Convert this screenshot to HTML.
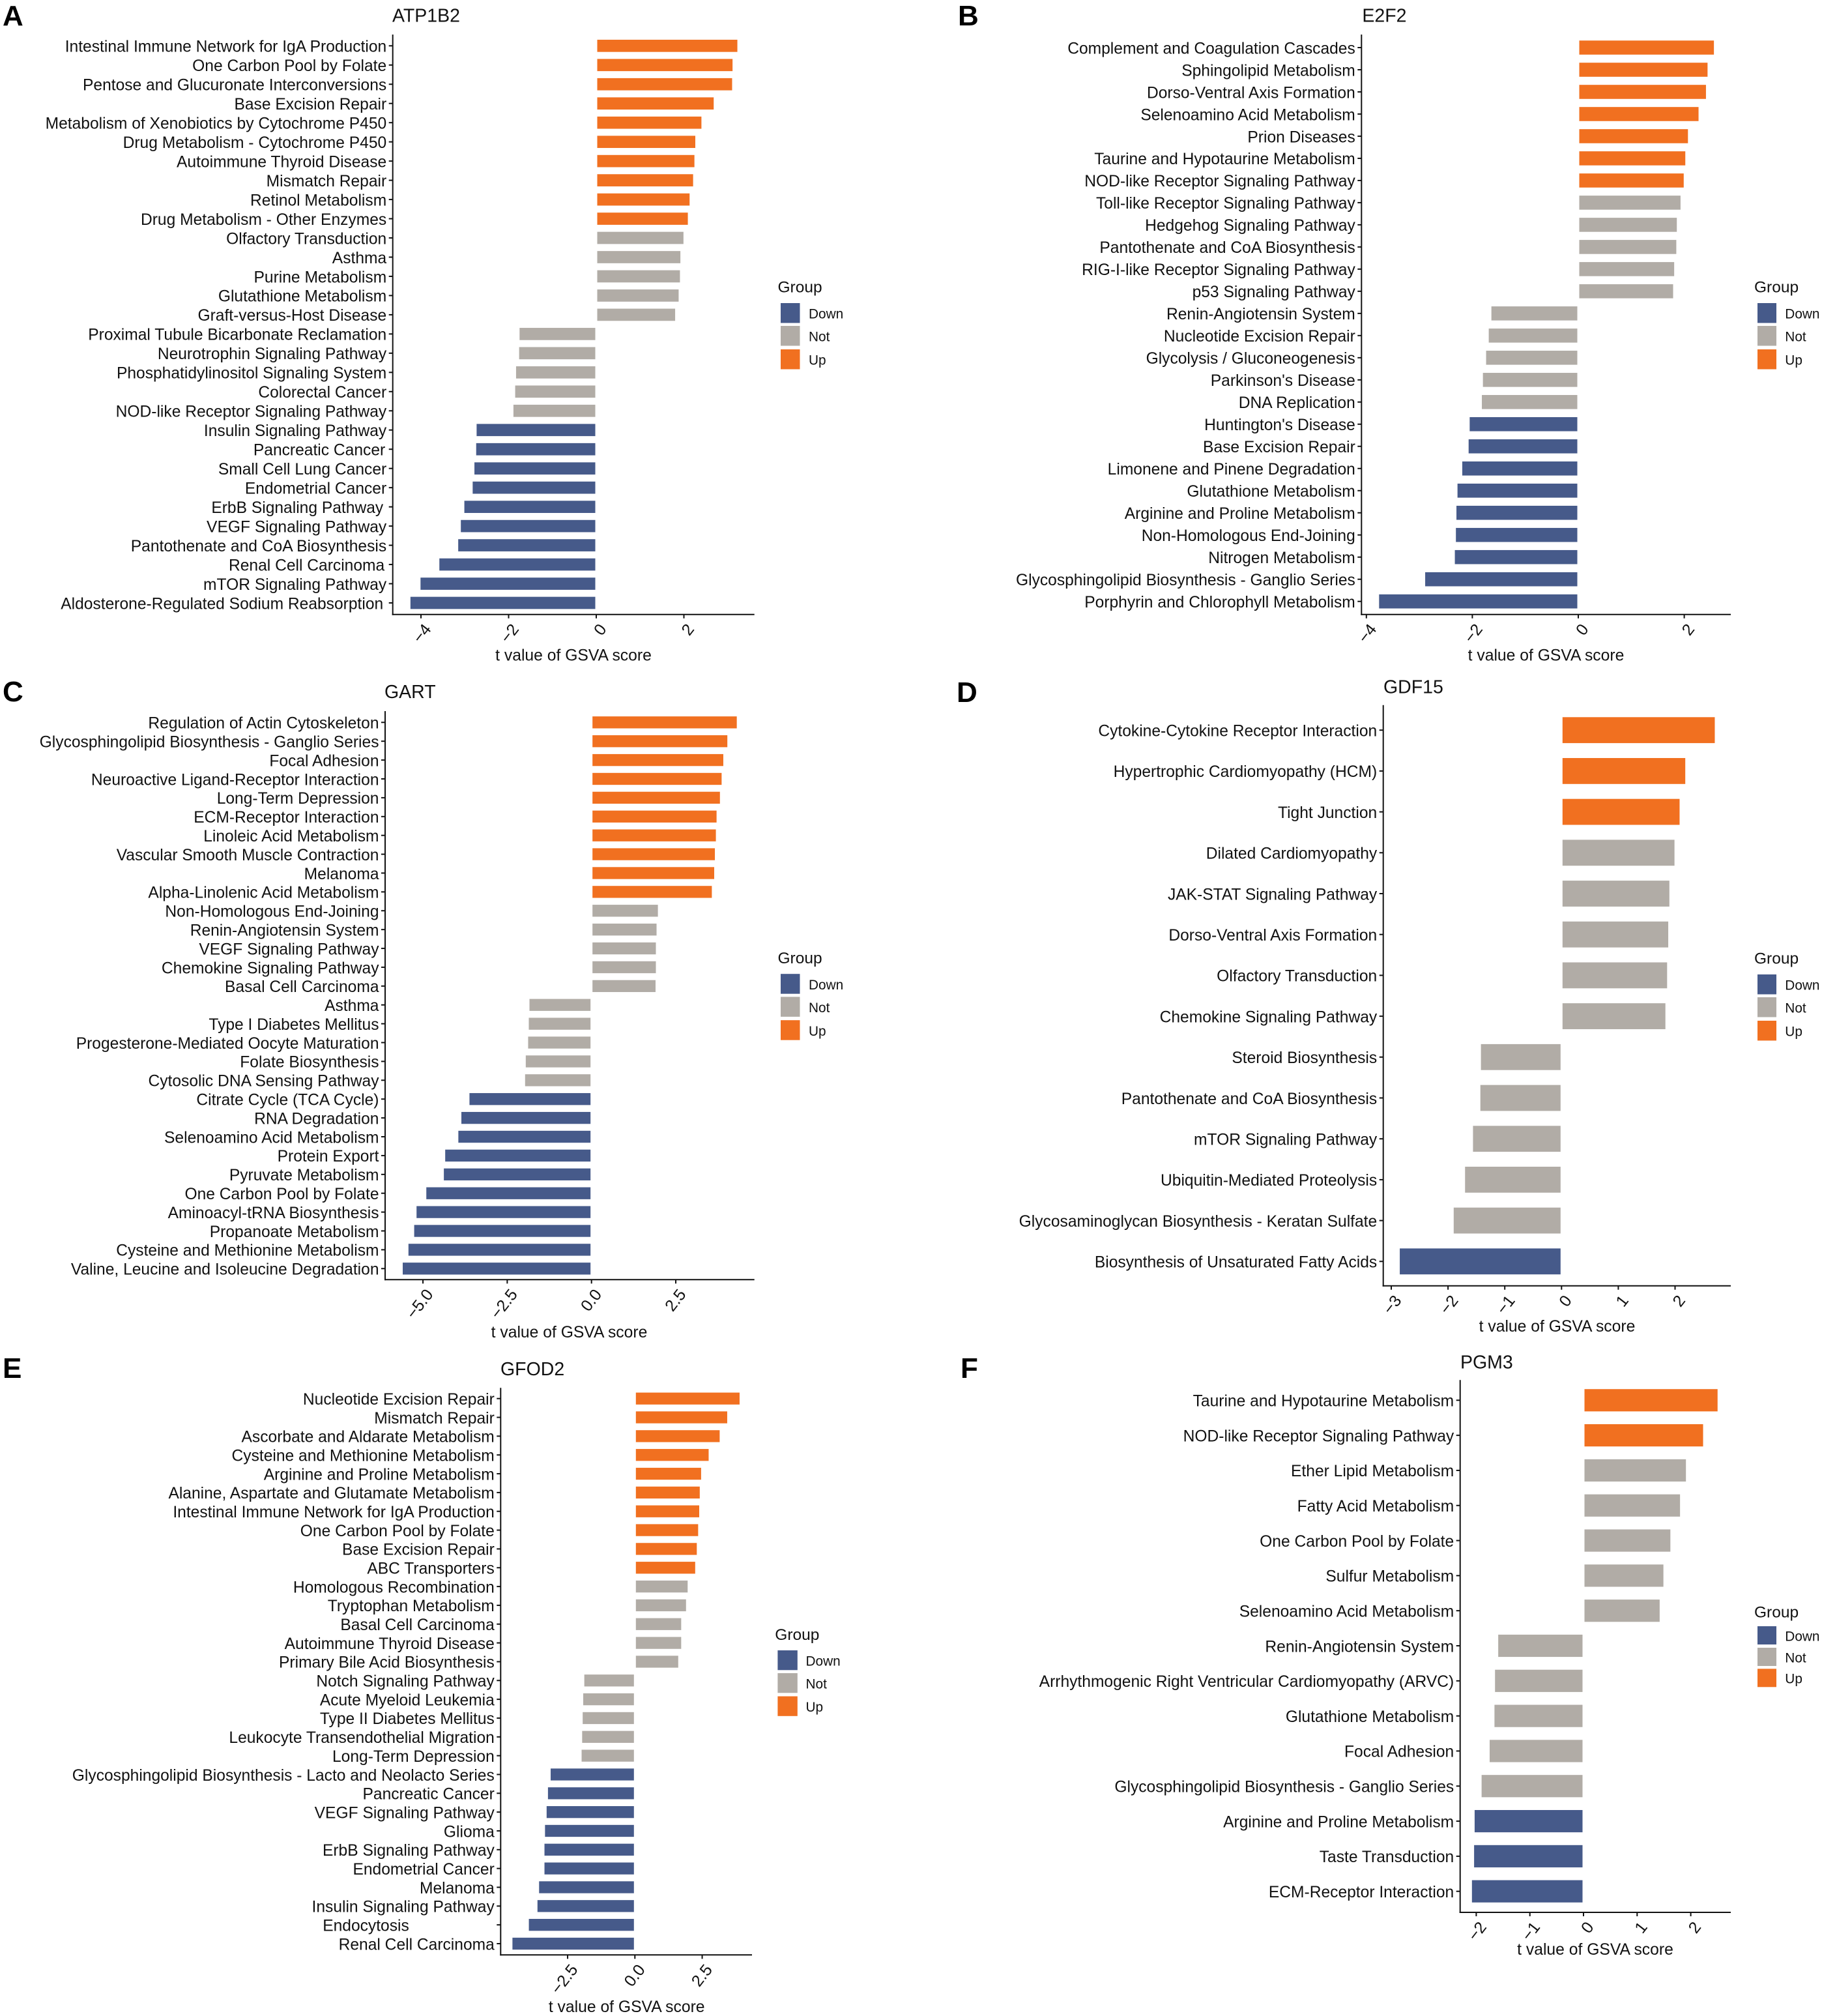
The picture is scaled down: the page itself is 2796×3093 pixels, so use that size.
<!DOCTYPE html>
<html lang="en">
<head>
<meta charset="utf-8">
<title>GSVA score bar charts</title>
<style>
html,body{margin:0;padding:0;background:#fff;}
svg{display:block;}
text{font-family:"Liberation Sans",Arial,sans-serif;fill:#111;}
</style>
</head>
<body>
<svg id="figure" xmlns="http://www.w3.org/2000/svg" width="2796" height="3093" viewBox="0 0 2796 3093"></svg>
<script>
const atp1b2Labels = ["Intestinal Immune Network for IgA Production","One Carbon Pool by Folate","Pentose and Glucuronate Interconversions","Base Excision Repair","Metabolism of Xenobiotics by Cytochrome P450","Drug Metabolism - Cytochrome P450","Autoimmune Thyroid Disease","Mismatch Repair","Retinol Metabolism","Drug Metabolism - Other Enzymes","Olfactory Transduction","Asthma","Purine Metabolism","Glutathione Metabolism","Graft-versus-Host Disease","Proximal Tubule Bicarbonate Reclamation","Neurotrophin Signaling Pathway","Phosphatidylinositol Signaling System","Colorectal Cancer","NOD-like Receptor Signaling Pathway","Insulin Signaling Pathway","Pancreatic Cancer","Small Cell Lung Cancer","Endometrial Cancer","ErbB Signaling Pathway","VEGF Signaling Pathway","Pantothenate and CoA Biosynthesis","Renal Cell Carcinoma","mTOR Signaling Pathway","Aldosterone-Regulated Sodium Reabsorption"];
const atp1b2Values = [3.22,3.11,3.10,2.68,2.40,2.26,2.24,2.21,2.13,2.09,1.99,1.92,1.91,1.88,1.80,-1.75,-1.76,-1.83,-1.85,-1.89,-2.73,-2.74,-2.78,-2.82,-3.01,-3.09,-3.15,-3.58,-4.01,-4.24];
const atp1b2Groups = ["Up","Up","Up","Up","Up","Up","Up","Up","Up","Up","Not","Not","Not","Not","Not","Not","Not","Not","Not","Not","Down","Down","Down","Down","Down","Down","Down","Down","Down","Down"];
const atp1b2Ticks = [-4,-2,0,2];
const atp1b2TickLabels = ["\u22124","\u22122","0","2"];

const e2f2Labels = ["Complement and Coagulation Cascades","Sphingolipid Metabolism","Dorso-Ventral Axis Formation","Selenoamino Acid Metabolism","Prion Diseases","Taurine and Hypotaurine Metabolism","NOD-like Receptor Signaling Pathway","Toll-like Receptor Signaling Pathway","Hedgehog Signaling Pathway","Pantothenate and CoA Biosynthesis","RIG-I-like Receptor Signaling Pathway","p53 Signaling Pathway","Renin-Angiotensin System","Nucleotide Excision Repair","Glycolysis / Gluconeogenesis","Parkinson's Disease","DNA Replication","Huntington's Disease","Base Excision Repair","Limonene and Pinene Degradation","Glutathione Metabolism","Arginine and Proline Metabolism","Non-Homologous End-Joining","Nitrogen Metabolism","Glycosphingolipid Biosynthesis - Ganglio Series","Porphyrin and Chlorophyll Metabolism"];
const e2f2Values = [2.56,2.44,2.41,2.27,2.07,2.02,1.99,1.93,1.86,1.85,1.81,1.79,-1.64,-1.69,-1.74,-1.80,-1.82,-2.05,-2.07,-2.19,-2.28,-2.30,-2.31,-2.33,-2.89,-3.76];
const e2f2Groups = ["Up","Up","Up","Up","Up","Up","Up","Not","Not","Not","Not","Not","Not","Not","Not","Not","Not","Down","Down","Down","Down","Down","Down","Down","Down","Down"];
const e2f2Ticks = [-4,-2,0,2];
const e2f2TickLabels = ["\u22124","\u22122","0","2"];

const gartLabels = ["Regulation of Actin Cytoskeleton","Glycosphingolipid Biosynthesis - Ganglio Series","Focal Adhesion","Neuroactive Ligand-Receptor Interaction","Long-Term Depression","ECM-Receptor Interaction","Linoleic Acid Metabolism","Vascular Smooth Muscle Contraction","Melanoma","Alpha-Linolenic Acid Metabolism","Non-Homologous End-Joining","Renin-Angiotensin System","VEGF Signaling Pathway","Chemokine Signaling Pathway","Basal Cell Carcinoma","Asthma","Type I Diabetes Mellitus","Progesterone-Mediated Oocyte Maturation","Folate Biosynthesis","Cytosolic DNA Sensing Pathway","Citrate Cycle (TCA Cycle)","RNA Degradation","Selenoamino Acid Metabolism","Protein Export","Pyruvate Metabolism","One Carbon Pool by Folate","Aminoacyl-tRNA Biosynthesis","Propanoate Metabolism","Cysteine and Methionine Metabolism","Valine, Leucine and Isoleucine Degradation"];
const gartValues = [4.31,4.03,3.91,3.86,3.81,3.71,3.69,3.66,3.64,3.57,1.97,1.93,1.91,1.91,1.90,-1.84,-1.86,-1.88,-1.95,-1.97,-3.62,-3.86,-3.95,-4.34,-4.38,-4.90,-5.19,-5.26,-5.43,-5.60];
const gartGroups = ["Up","Up","Up","Up","Up","Up","Up","Up","Up","Up","Not","Not","Not","Not","Not","Not","Not","Not","Not","Not","Down","Down","Down","Down","Down","Down","Down","Down","Down","Down"];
const gartTicks = [-5,-2.5,0,2.5];
const gartTickLabels = ["\u22125.0","\u22122.5","0.0","2.5"];

const gdf15Labels = ["Cytokine-Cytokine Receptor Interaction","Hypertrophic Cardiomyopathy (HCM)","Tight Junction","Dilated Cardiomyopathy","JAK-STAT Signaling Pathway","Dorso-Ventral Axis Formation","Olfactory Transduction","Chemokine Signaling Pathway","Steroid Biosynthesis","Pantothenate and CoA Biosynthesis","mTOR Signaling Pathway","Ubiquitin-Mediated Proteolysis","Glycosaminoglycan Biosynthesis - Keratan Sulfate","Biosynthesis of Unsaturated Fatty Acids"];
const gdf15Values = [2.70,2.18,2.08,1.99,1.90,1.88,1.86,1.83,-1.42,-1.43,-1.56,-1.70,-1.90,-2.85];
const gdf15Groups = ["Up","Up","Up","Not","Not","Not","Not","Not","Not","Not","Not","Not","Not","Down"];
const gdf15Ticks = [-3,-2,-1,0,1,2];
const gdf15TickLabels = ["\u22123","\u22122","\u22121","0","1","2"];

const gfod2Labels = ["Nucleotide Excision Repair","Mismatch Repair","Ascorbate and Aldarate Metabolism","Cysteine and Methionine Metabolism","Arginine and Proline Metabolism","Alanine, Aspartate and Glutamate Metabolism","Intestinal Immune Network for IgA Production","One Carbon Pool by Folate","Base Excision Repair","ABC Transporters","Homologous Recombination","Tryptophan Metabolism","Basal Cell Carcinoma","Autoimmune Thyroid Disease","Primary Bile Acid Biosynthesis","Notch Signaling Pathway","Acute Myeloid Leukemia","Type II Diabetes Mellitus","Leukocyte Transendothelial Migration","Long-Term Depression","Glycosphingolipid Biosynthesis - Lacto and Neolacto Series","Pancreatic Cancer","VEGF Signaling Pathway","Glioma","ErbB Signaling Pathway","Endometrial Cancer","Melanoma","Insulin Signaling Pathway","Endocytosis","Renal Cell Carcinoma"];
const gfod2Values = [3.89,3.43,3.15,2.74,2.46,2.41,2.39,2.35,2.30,2.24,1.96,1.90,1.72,1.72,1.61,-1.88,-1.92,-1.94,-1.96,-1.98,-3.13,-3.23,-3.28,-3.34,-3.36,-3.36,-3.56,-3.62,-3.94,-4.55];
const gfod2Groups = ["Up","Up","Up","Up","Up","Up","Up","Up","Up","Up","Not","Not","Not","Not","Not","Not","Not","Not","Not","Not","Down","Down","Down","Down","Down","Down","Down","Down","Down","Down"];
const gfod2Ticks = [-2.5,0,2.5];
const gfod2TickLabels = ["\u22122.5","0.0","2.5"];

const pgm3Labels = ["Taurine and Hypotaurine Metabolism","NOD-like Receptor Signaling Pathway","Ether Lipid Metabolism","Fatty Acid Metabolism","One Carbon Pool by Folate","Sulfur Metabolism","Selenoamino Acid Metabolism","Renin-Angiotensin System","Arrhythmogenic Right Ventricular Cardiomyopathy (ARVC)","Glutathione Metabolism","Focal Adhesion","Glycosphingolipid Biosynthesis - Ganglio Series","Arginine and Proline Metabolism","Taste Transduction","ECM-Receptor Interaction"];
const pgm3Values = [2.50,2.23,1.91,1.80,1.62,1.49,1.42,-1.59,-1.65,-1.66,-1.75,-1.90,-2.03,-2.04,-2.08];
const pgm3Groups = ["Up","Up","Not","Not","Not","Not","Not","Not","Not","Not","Not","Not","Down","Down","Down"];
const pgm3Ticks = [-2,-1,0,1,2];
const pgm3TickLabels = ["\u22122","\u22121","0","1","2"];

const legendNames = ["Down","Not","Up"];
const groupColors = {Down:"#465A8A",Not:"#B1ACA6",Up:"#F17020"};

const panels = [
  {id:"a",letter:"A",lx:4,ly:39,title:"ATP1B2",titleX:602,titleY:24.5,labels:atp1b2Labels,values:atp1b2Values,groups:atp1b2Groups,ticks:atp1b2Ticks,tickLabels:atp1b2TickLabels,
   axisX:602.7,axisRight:1157.7,axisTop:53,axisBottom:942.7,zero:915,unit:67.25,first:70.3,last:925,xTitleX:880,xTitleY:1006,
   legX:1193.5,legTitleY:441,keyX:1198,keyW:29.5,keyH:30.5,keyY:[465,500,536],legLabelX:1241,nudge:{21:-2,24:-5,27:-3,29:-5}},
  {id:"b",letter:"B",lx:1470,ly:39,title:"E2F2",titleX:2090.4,titleY:24.5,labels:e2f2Labels,values:e2f2Values,groups:e2f2Groups,ticks:e2f2Ticks,tickLabels:e2f2TickLabels,
   axisX:2089.3,axisRight:2656,axisTop:53,axisBottom:942.7,zero:2422,unit:81.3,first:73,last:922.7,xTitleX:2372.5,xTitleY:1006,
   legX:2692,legTitleY:441,keyX:2697,keyW:29,keyH:30.5,keyY:[465,500,536],legLabelX:2739.3,nudge:{}},
  {id:"c",letter:"C",lx:4,ly:1076,title:"GART",titleX:590,titleY:1061.8,labels:gartLabels,values:gartValues,groups:gartGroups,ticks:gartTicks,tickLabels:gartTickLabels,
   axisX:591,axisRight:1157.7,axisTop:1091,axisBottom:1963.3,zero:907.7,unit:51.73,first:1108.3,last:1946.3,xTitleX:873.5,xTitleY:2044.3,
   legX:1193.5,legTitleY:1470.4,keyX:1198,keyW:29.5,keyH:30.5,keyY:[1494.2,1529.4,1565.2],legLabelX:1241,nudge:{}},
  {id:"d",letter:"D",lx:1468,ly:1077,title:"GDF15",titleX:2123,titleY:1054.5,labels:gdf15Labels,values:gdf15Values,groups:gdf15Groups,ticks:gdf15Ticks,tickLabels:gdf15TickLabels,
   axisX:2122.7,axisRight:2656,axisTop:1081.7,axisBottom:1972.7,zero:2396.3,unit:87.1,first:1120.2,last:1935.3,xTitleX:2389.5,xTitleY:2035.7,
   legX:2692,legTitleY:1471,keyX:2697,keyW:29,keyH:30.5,keyY:[1495,1530,1566],legLabelX:2739.3,nudge:{}},
  {id:"e",letter:"E",lx:4,ly:2114,title:"GFOD2",titleX:768,titleY:2100.9,labels:gfod2Labels,values:gfod2Values,groups:gfod2Groups,ticks:gfod2Ticks,tickLabels:gfod2TickLabels,
   axisX:768.3,axisRight:1154,axisTop:2129.2,axisBottom:2999.3,zero:974.3,unit:41.3,first:2145.7,last:2982,xTitleX:961.7,xTitleY:3079.3,
   legX:1189.3,legTitleY:2508.3,keyX:1193.4,keyW:30.4,keyH:30.3,keyY:[2532,2567,2602.5],legLabelX:1236.5,nudge:{28:-131}},
  {id:"f",letter:"F",lx:1474,ly:2114,title:"PGM3",titleX:2241,titleY:2090.3,labels:pgm3Labels,values:pgm3Values,groups:pgm3Groups,ticks:pgm3Ticks,tickLabels:pgm3TickLabels,
   axisX:2240.7,axisRight:2656,axisTop:2117.3,axisBottom:2934,zero:2430,unit:82.3,first:2148.3,last:2901.7,xTitleX:2448,xTitleY:2991.7,
   legX:2692,legTitleY:2474,keyX:2697,keyW:29,keyH:28,keyY:[2495,2528,2560.3],legLabelX:2739.3,nudge:{}}
];

const SVGNS = "http://www.w3.org/2000/svg";
const root = document.getElementById("figure");

function make(tag, attrs, parent, txt){
  const el = document.createElementNS(SVGNS, tag);
  for(const k in attrs){ el.setAttribute(k, attrs[k]); }
  if(txt !== undefined){ el.textContent = txt; }
  parent.appendChild(el);
  return el;
}

function slug(s){
  return s.toLowerCase().replace(/[^a-z0-9]+/g,"-").replace(/^-|-$/g,"");
}

panels.forEach(function(p){
  const xScale = function(v){ return p.zero + v * p.unit; };
  const step = (p.last - p.first) / (p.labels.length - 1);
  const yScale = function(i){ return p.first + i * step; };

  const g = make("g", {}, root);
  
  

  const letter = make("text", {x:p.lx, y:p.ly, "font-size":44, "font-weight":"bold", style:"fill:#000"}, g, p.letter);
  
  

  const title = make("text", {x:p.titleX, y:p.titleY, "font-size":28.5, "dominant-baseline":"central"}, g, p.title);
  
  

  p.values.forEach(function(v, i){
    const x1 = xScale(v);
    const x0 = xScale(0) + (v >= 0 ? 1.5 : -1.5);
    const h = step * 0.635;
    const bar = make("rect", {x:Math.min(x0,x1), y:yScale(i)-h/2, width:Math.abs(x1-x0), height:h, fill:groupColors[p.groups[i]]}, g);
    
    

    const tick = make("line", {x1:p.axisX-6, x2:p.axisX, y1:yScale(i), y2:yScale(i), stroke:"#111", "stroke-width":2}, g);
    
    

    const nudge = p.nudge[i] || 0;
    const label = make("text", {x:p.axisX-9.5+nudge, y:yScale(i)+1.8, "font-size":24.6, "text-anchor":"end", "dominant-baseline":"central"}, g, p.labels[i]);
    
    
  });

  const yAxis = make("line", {x1:p.axisX, x2:p.axisX, y1:p.axisTop, y2:p.axisBottom+1, stroke:"#111", "stroke-width":2}, g);
  
  

  const xAxis = make("line", {x1:p.axisX-1, x2:p.axisRight, y1:p.axisBottom, y2:p.axisBottom, stroke:"#111", "stroke-width":2}, g);
  
  

  p.ticks.forEach(function(t, i){
    const tx = xScale(t);
    const tick = make("line", {x1:tx, x2:tx, y1:p.axisBottom, y2:p.axisBottom+6, stroke:"#111", "stroke-width":2}, g);
    
    

    const lx = tx + 10.5, ly = p.axisBottom + 18;
    const tl = make("text", {x:lx, y:ly, "font-size":25, "text-anchor":"end", "dominant-baseline":"central", transform:"rotate(-52 "+lx+" "+ly+")"}, g, p.tickLabels[i]);
    
    
  });

  const xTitle = make("text", {x:p.xTitleX, y:p.xTitleY, "font-size":24.7, "text-anchor":"middle", "dominant-baseline":"central"}, g, "t value of GSVA score");
  
  

  const leg = make("g", {}, g);
  
  

  const legTitle = make("text", {x:p.legX, y:p.legTitleY, "font-size":24.5, "dominant-baseline":"central"}, leg, "Group");
  
  

  legendNames.forEach(function(n, i){
    const key = make("rect", {x:p.keyX, y:p.keyY[i], width:p.keyW, height:p.keyH, fill:groupColors[n]}, leg);
    
    

    const lab = make("text", {x:p.legLabelX, y:p.keyY[i]+p.keyH/2+1.8, "font-size":20.8, "dominant-baseline":"central"}, leg, n);
    
    
  });
});
</script>
</body>
</html>
